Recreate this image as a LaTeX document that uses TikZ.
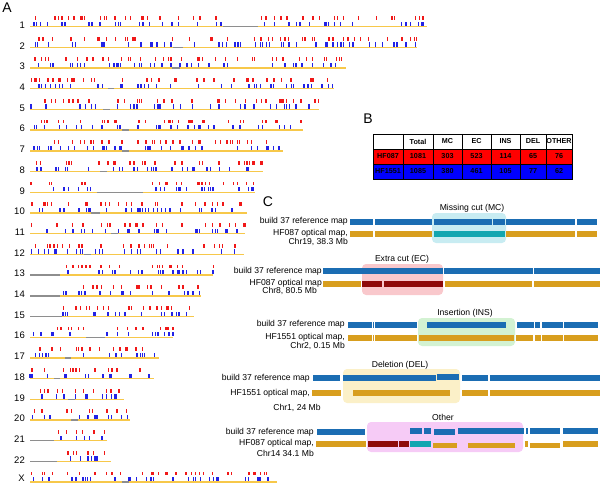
\documentclass[tikz,border=0pt]{standalone}
\usepackage{fontspec}
\setmainfont{Liberation Sans}

\definecolor{tickRed}{HTML}{F01818}
\definecolor{tickBlue}{HTML}{2222E6}
\definecolor{chrGold}{HTML}{F7C84A}
\definecolor{gapGray}{HTML}{8E8E8E}
\definecolor{refBlue}{HTML}{1B6DB3}
\definecolor{optGold}{HTML}{D89E1E}
\definecolor{darkRed}{HTML}{8E0A0A}
\definecolor{tealCut}{HTML}{12A6B0}
\definecolor{boxCyan}{HTML}{C8ECF2}
\definecolor{boxPink}{HTML}{F9C8CC}
\definecolor{boxGreen}{HTML}{D3F2D2}
\definecolor{boxYellow}{HTML}{FBF0C8}
\definecolor{boxMagenta}{HTML}{F6CBF6}
\definecolor{rowRed}{HTML}{FF0000}
\definecolor{rowBlue}{HTML}{0000FF}

\tikzset{
	panelLabel/.style={font=\fontsize{14}{14}\selectfont, inner sep=0pt},
	chrLabel/.style={anchor=east, font=\fontsize{9.5}{10}\selectfont, inner sep=0pt},
	mapLabel/.style={anchor=east, font=\fontsize{8.6}{10}\selectfont, inner sep=0pt},
	eventTitle/.style={font=\fontsize{8.6}{10}\selectfont, inner sep=0pt},
	tableText/.style={font=\fontsize{7.2}{8}\selectfont\bfseries, text=black, inner sep=0pt},
	refBar/.style={fill=refBlue},
	optBar/.style={fill=optGold},
	eventBox/.style={rounded corners=4pt},
}

\begin{document}
\begin{tikzpicture}[x=1pt,y=-1pt]
			\useasboundingbox (0,0) rectangle (600,484);
			
			%Panel A: chromosome maps
			\node (labelA) at (7,8) [panelLabel]{A};
			\pgfmathsetseed{1551}
			\foreach \chr/\len/\gapA/\gapB [count=\k] in {1/249/121/143, 2/243/90/96, 3/198/89/94, 
			4/191/49/53, 5/181/46/50, 6/171/58/62, 7/159/58/62, 8/146/44/48, 9/141/42/71, 
			10/136/38/44, 11/135/51/55, 12/134/34/38, 13/115/0/19, 14/107/0/19, 15/103/0/20, 
			16/90/35/47, 17/81/22/26, 18/78/15/19, 19/59/24/28, 20/63/26/30, 21/48/0/15, 
			22/51/0/17, X/155/58/62}{
				\pgfmathsetmacro{\yb}{26.7+(\k-1)*20.7}
				\pgfmathsetmacro{\yl}{min(\yb-1.5,478)}
				\node (chr\k) at (25,\yl) [chrLabel]{\chr};
				\draw[chrGold, line width=1.4pt] (30,\yb) -- ({30+\len*1.594},\yb);
				\draw[gapGray, line width=1.4pt] ({30+\gapA*1.594},\yb) -- ({30+\gapB*1.594},\yb);
				%Red and blue events
				\pgfmathtruncatemacro{\nt}{0.22*(\len-\gapB+\gapA)}
				\foreach \i in {1,...,\nt}{
					\pgfmathsetmacro{\xr}{rnd*(\len-\gapB+\gapA)}
					\pgfmathsetmacro{\xr}{30+1.594*(\xr+(\xr>\gapA)*(\gapB-\gapA))}
					\fill[tickRed] (\xr-0.6,\yb-10.6) rectangle ++(1.3,3.8);
					\pgfmathsetmacro{\xbl}{rnd*(\len-\gapB+\gapA)}
					\pgfmathsetmacro{\xbl}{30+1.594*(\xbl+(\xbl>\gapA)*(\gapB-\gapA))}
					\fill[tickBlue] (\xbl-0.6,\yb-5) rectangle ++(1.3,4.2);
				}
			}
			
			%Panel B: table of events
			\node (labelB) at (368,119) [panelLabel]{B};
			\fill[rowRed] (373,149) rectangle (572,164);
			\fill[rowBlue] (373,164) rectangle (572,179);
			\draw[line width=0.5pt] (373,134) rectangle (572,179);
			\foreach \yl in {149,164} \draw[line width=0.4pt] (373,\yl) -- (572,\yl);
			\foreach \xl in {403,433,462,491,520,546} \draw[line width=0.4pt] (\xl,134) -- (\xl,179);
			\foreach \cx/\head/\va/\vb [count=\col] in {418/Total/1081/1085, 447.5/MC/303/380, 
			476.5/EC/523/461, 505.5/INS/114/105, 533/DEL/65/77, 559/OTHER/76/62}{
				\node (head\col) at (\cx,141.5) [tableText]{\head};
				\node (hfA\col) at (\cx,156.5) [tableText]{\va};
				\node (hfB\col) at (\cx,171.5) [tableText]{\vb};
			}
			\node (rowA) at (388,156.5) [tableText]{HF087};
			\node (rowB) at (388,171.5) [tableText]{HF1551};
			
			%Panel C: examples
			\node (labelC) at (268,202) [panelLabel]{C};
			
			%Missing cut
			\fill[boxCyan, eventBox] (432,213) rectangle (506,243);
			\node (titleMC) at (472,208) [eventTitle]{Missing cut (MC)};
			\node (refMC) at (348,221) [mapLabel]{build 37 reference map};
			\node (optMC) at (348,233) [mapLabel]{HF087 optical map,};
			\node (chrMC) at (348,242) [mapLabel]{Chr19, 38.3 Mb};
			\foreach \segL/\segR in {350/373, 375/432, 434/492, 493/505, 506/575, 577/597} 
			\fill[refBar] (\segL,219) rectangle (\segR,225);
			\foreach \segL/\segR in {350/373, 375/432, 506/575, 577/597} 
			\fill[optBar] (\segL,231) rectangle (\segR,237);
			\fill[tealCut] (434,231) rectangle (505,237);
			
			%Extra cut
			\fill[boxPink, eventBox] (362,264) rectangle (443,295);
			\node (titleEC) at (402,259) [eventTitle]{Extra cut (EC)};
			\node (refEC) at (322,271) [mapLabel]{build 37 reference map};
			\node (optEC) at (322,283) [mapLabel]{HF087 optical map};
			\node (chrEC) at (317,291) [mapLabel]{Chr8, 80.5 Mb};
			\foreach \segL/\segR in {323/443, 444/533, 534/600} 
			\fill[refBar] (\segL,268) rectangle (\segR,274);
			\foreach \segL/\segR in {323/361, 445/532, 534/600} 
			\fill[optBar] (\segL,281) rectangle (\segR,287);
			\foreach \segL/\segR in {362/382, 384/443} 
			\fill[darkRed] (\segL,281) rectangle (\segR,287);
			
			%Insertion
			\fill[boxGreen, eventBox] (418,318) rectangle (515,346);
			\node (titleINS) at (465,313) [eventTitle]{Insertion (INS)};
			\node (refINS) at (345,324) [mapLabel]{build 37 reference map};
			\node (optINS) at (345,337) [mapLabel]{HF1551 optical map,};
			\node (chrINS) at (345,346) [mapLabel]{Chr2, 0.15 Mb};
			\foreach \segL/\segR in {348/372, 373/374, 375/417, 427/506, 517/534, 535/540, 542/563, 564/598} 
			\fill[refBar] (\segL,322) rectangle (\segR,328);
			\foreach \segL/\segR in {348/372, 373/374, 375/417, 419/514, 516/533, 535/541, 542/563, 564/598} 
			\fill[optBar] (\segL,335) rectangle (\segR,341);
			
			%Deletion
			\fill[boxYellow, eventBox] (343,369) rectangle (460,403);
			\node (titleDEL) at (400,365) [eventTitle]{Deletion (DEL)};
			\node (refDEL) at (310,378) [mapLabel]{build 37 reference map};
			\node (optDEL) at (310,393) [mapLabel]{HF1551 optical map,};
			\node (chrDEL) at (297,407.5) [eventTitle]{Chr1, 24 Mb};
			\foreach \segL/\segR in {313/340, 343/436, 462/488, 490/600} 
			\fill[refBar] (\segL,375) rectangle (\segR,381);
			\fill[refBar] (437,374) rectangle (459,380);
			\foreach \segL/\segR in {312/341, 353/450, 462/488, 490/600} 
			\fill[optBar] (\segL,390) rectangle (\segR,396);
			
			%Other events
			\fill[boxMagenta, eventBox] (367,422) rectangle (523,452);
			\node (titleOther) at (443,417) [eventTitle]{Other};
			\node (refOther) at (314,432) [mapLabel]{build 37 reference map};
			\node (optOther) at (314,443) [mapLabel]{HF087 optical map,};
			\node (chrOther) at (314,453) [mapLabel]{Chr14 34.1 Mb};
			\foreach \segL/\segR in {317/365, 434/455} 
			\fill[refBar] (\segL,429) rectangle (\segR,435);
			\foreach \segL/\segR in {410/422, 424/431, 458/524, 526/528, 530/560, 563/598} 
			\fill[refBar] (\segL,427.5) rectangle (\segR,433.5);
			\foreach \segL/\segR in {316/366, 525/528, 563/598} 
			\fill[optBar] (\segL,441) rectangle (\segR,447);
			\foreach \segL/\segR in {433/457, 468/515, 530/560} 
			\fill[optBar] (\segL,442.5) rectangle (\segR,448);
			\foreach \segL/\segR in {368/398, 399/409} 
			\fill[darkRed] (\segL,441) rectangle (\segR,447);
			\fill[tealCut] (410,441) rectangle (431,446.5);
			
\end{tikzpicture}
\end{document}
